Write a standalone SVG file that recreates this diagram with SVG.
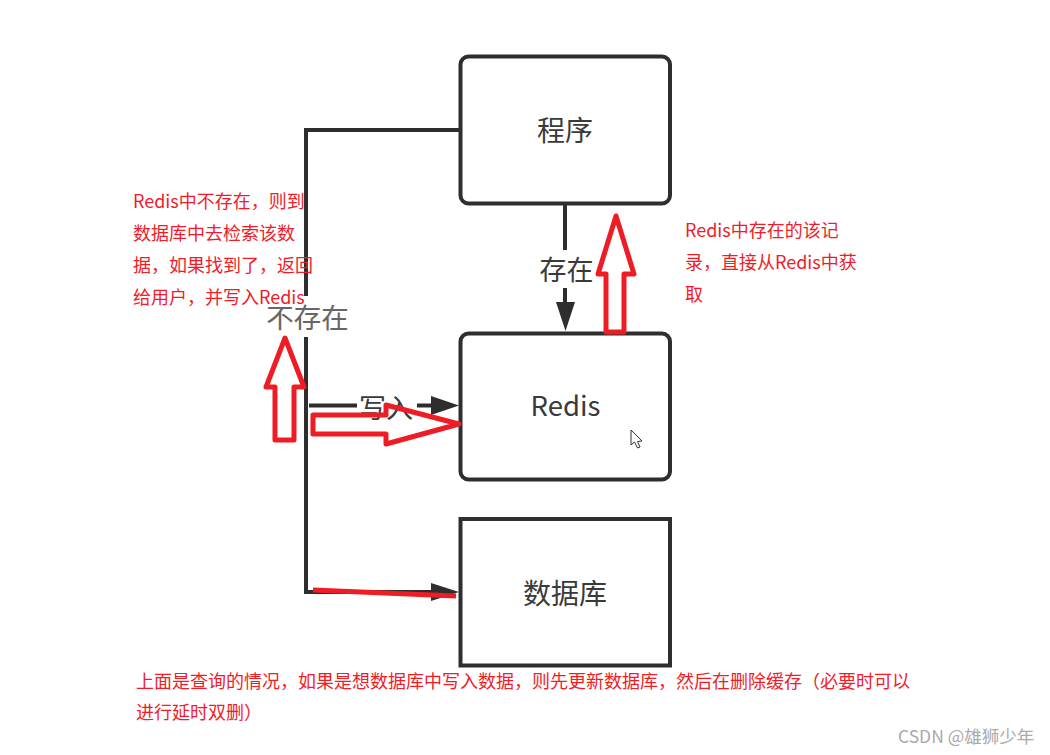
<svg xmlns="http://www.w3.org/2000/svg" width="1050" height="755" viewBox="0 0 1050 755">
<style>
text{font-family:"Noto Sans CJK SC","Liberation Sans",sans-serif}
.node{fill:#fff;stroke:#2e2e2e;stroke-width:4}
.lab{fill:#3a3a3a;font-size:27px;text-anchor:middle}
.edge{fill:none;stroke:#2e2e2e;stroke-width:4}
.head{fill:#2e2e2e}
.red{fill:#f01c28;font-size:18px}
.arrow{fill:none;stroke:#ee1c25;stroke-width:5;stroke-linejoin:round}
</style>
<rect width="1050" height="755" fill="#fff"/>
<g id="connectors">
<path class="edge" d="M460 130H306V296M306 337V592H432"/>
<path class="edge" d="M565 205V250M565 288V305"/>
<path class="edge" d="M309 405.500H357M417 405.500H432"/>
<polygon class="head" points="556,302 575,302 565.500,331"/>
<polygon class="head" points="431,396 459,405.500 431,415"/>
<polygon class="head" points="431,583 459,592 431,601"/>
</g>
<g id="node-program"><rect class="node" x="460.500" y="56.500" width="209.500" height="147" rx="8"/><text class="lab" x="565" y="141" style="font-size:28px">程序</text></g>
<g id="node-redis"><rect class="node" x="460.500" y="333.500" width="209.500" height="146" rx="8"/><text class="lab" x="565.500" y="416" style="font-size:27.500px">Redis</text></g>
<g id="node-db"><rect class="node" x="460.500" y="519" width="209.500" height="146.500"/><text class="lab" x="565" y="604" style="font-size:28px">数据库</text></g>
<g id="edge-labels">
<text class="lab" x="566.500" y="280">存在</text>
<text class="lab" x="307.500" y="327.500" style="font-size:27.500px;fill:#666">不存在</text>
<text class="lab" x="386" y="418">写入</text>
</g>
<g id="cursor"><path d="M631 430V445L634.500 442L637.500 448L640 447L637.500 441.500L642 441Z" fill="#fff" stroke="#333" stroke-width="1"/></g>
<g id="annotations">
<path class="arrow" d="M275 440V387H266L285 338L304 387H294V440Z"/>
<path class="arrow" d="M313 415H386V405L459 424L386 444V434H313Z"/>
<path class="arrow" d="M606 332V274H598L616 216L634 274H624V332Z"/>
<path d="M313 590L456 596" fill="none" stroke="#ee1c25" stroke-width="5"/>
<text class="red" x="133" y="208">Redis中不存在，则到</text>
<text class="red" x="133" y="240">数据库中去检索该数</text>
<text class="red" x="133" y="272">据，如果找到了，返回</text>
<text class="red" x="133" y="304">给用户，并写入Redis</text>
<text class="red" x="685" y="237">Redis中存在的该记</text>
<text class="red" x="685" y="269">录，直接从Redis中获</text>
<text class="red" x="685" y="301">取</text>
<text class="red" x="136" y="688">上面是查询的情况，如果是想数据库中写入数据，则先更新数据库，然后在删除缓存（必要时可以</text>
<text class="red" x="136" y="719">进行延时双删）</text>
</g>
<text x="898" y="743" fill="#aaa" style="font-size:17.500px">CSDN @雄狮少年</text>
</svg>
